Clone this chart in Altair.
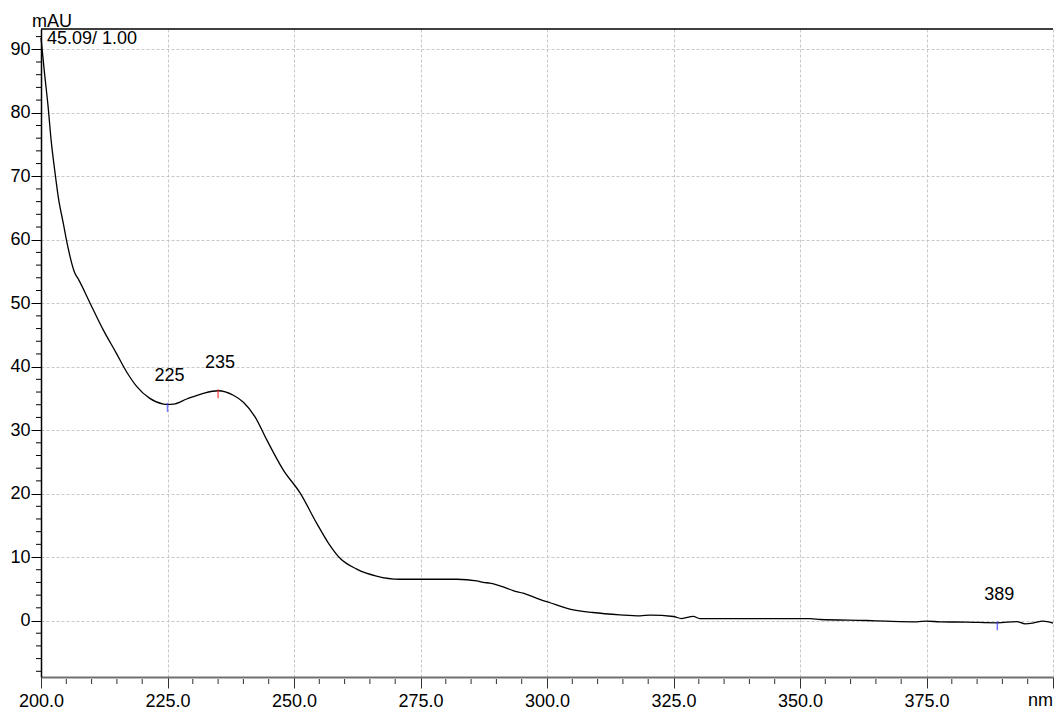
import altair as alt
import pandas as pd

# UV spectrum (wavelength in nm, absorbance in mAU)
wavelength = [
    200.0, 200.7, 201.4, 202.0, 202.7, 203.4, 204.4, 205.3, 206.7, 207.3,
    209.7, 212.3, 214.9, 216.9, 218.9, 221.5, 224.2, 225.0, 226.2, 228.8,
    232.1, 235.0, 238.0, 240.0, 242.3, 244.6, 247.9, 251.2, 254.5, 256.8,
    259.1, 262.4, 266.3, 270.9, 276.9, 282.2, 286.1, 287.4, 288.7, 292.0,
    293.3, 295.3, 298.0, 300.6, 304.5, 309.1, 314.4, 318.4, 320.4, 325.0,
    326.6, 328.9, 330.2, 346.0, 352.0, 354.0, 363.2, 367.1, 373.1, 375.0,
    377.7, 382.9, 389.0, 392.8, 394.5, 396.0, 398.0, 400.0,
]
absorbance = [
    91.8, 86.2, 81.0, 75.7, 71.0, 66.8, 62.6, 58.9, 54.7, 53.9,
    50.0, 45.8, 42.1, 39.2, 36.9, 35.0, 34.1, 34.05, 34.1, 34.9,
    35.8, 36.2, 35.5, 34.4, 32.1, 28.5, 23.7, 20.1, 15.3, 12.2,
    9.8, 8.1, 7.0, 6.5, 6.5, 6.5, 6.25, 6.0, 5.9, 5.1,
    4.7, 4.3, 3.5, 2.8, 1.8, 1.26, 0.9, 0.74, 0.85, 0.63,
    0.31, 0.65, 0.31, 0.31, 0.31, 0.16, 0.0, -0.1, -0.2, -0.1,
    -0.2, -0.25, -0.36, -0.16, -0.52, -0.41, -0.1, -0.41,
]

# Peak / valley markers
peak_nm = [225, 235, 389]
peak_abs = [34.05, 36.2, -0.36]
peak_label = ["225", "235", "389"]
peak_color = ["#3a3aff", "#ff2020", "#3a3aff"]

x_major = [200, 225, 250, 275, 300, 325, 350, 375, 400]
y_major = [0, 10, 20, 30, 40, 50, 60, 70, 80, 90]
x_minor = [v for v in range(205, 400, 5) if v % 25 != 0]
y_minor = [v for v in range(-8, 93, 2) if v % 10 != 0]

W, H = 1012, 648
FONT = "Liberation Sans"

spec = pd.DataFrame({"nm": wavelength, "mAU": absorbance})
peaks = pd.DataFrame({"nm": peak_nm, "mAU": peak_abs,
                      "label": peak_label, "color": peak_color})

xs = alt.Scale(domain=[200, 400], nice=False, zero=False)
ys = alt.Scale(domain=[-8.9, 93.2], nice=False, zero=False)

x_axis = alt.Axis(
    values=x_major, title=None,
    labelExpr="datum.value == 400 ? '' : format(datum.value, '.1f')",
    labelFlush=False, labelOverlap=False,
    tickSize=11, labelPadding=4, tickColor="#303030",
    domainColor="#707070", domainWidth=2,
    grid=True, gridDash=[3, 2], gridColor="#c8c8c8",
    labelFont=FONT, labelFontSize=18, labelColor="#000000",
)
y_axis = alt.Axis(
    values=y_major, title=None, format="d",
    labelFlush=False, labelOverlap=False,
    tickSize=10, labelPadding=1, tickColor="#000000",
    domainColor="#000000", domainWidth=1.5,
    grid=True, gridDash=[3, 2], gridColor="#c8c8c8",
    labelFont=FONT, labelFontSize=18, labelColor="#000000",
)

line = alt.Chart(spec).mark_line(
    color="#000000", strokeWidth=1.3, interpolate="monotone"
).encode(
    x=alt.X("nm:Q", scale=xs, axis=x_axis),
    y=alt.Y("mAU:Q", scale=ys, axis=y_axis),
)

markers = alt.Chart(peaks).mark_tick(
    orient="vertical", size=9, thickness=1.5, strokeDash=[5, 2], yOffset=3
).encode(
    x=alt.X("nm:Q", scale=xs),
    y=alt.Y("mAU:Q", scale=ys),
    color=alt.Color("color:N", scale=None),
)

labels = alt.Chart(peaks).mark_text(
    font=FONT, fontSize=18, color="#000000", dy=-23, dx=2,
    baseline="alphabetic", align="center",
).encode(
    x=alt.X("nm:Q", scale=xs),
    y=alt.Y("mAU:Q", scale=ys),
    text="label:N",
)

x_minor_ticks = alt.Chart(pd.DataFrame({"nm": x_minor})).mark_rule(
    color="#303030", strokeWidth=1
).encode(
    x=alt.X("nm:Q", scale=xs),
    y=alt.value(H + 2), y2=alt.value(H + 7),
)

y_minor_ticks = alt.Chart(pd.DataFrame({"mAU": y_minor})).mark_rule(
    color="#000000", strokeWidth=1
).encode(
    y=alt.Y("mAU:Q", scale=ys),
    x=alt.value(-5), x2=alt.value(0),
)

top_border = alt.Chart(pd.DataFrame({"k": [0]})).mark_rule(
    color="#000000", strokeWidth=1.5
).encode(x=alt.value(0), x2=alt.value(W), y=alt.value(0))

def note(text, x, y, align="left"):
    return alt.Chart(pd.DataFrame({"t": [text]})).mark_text(
        font=FONT, fontSize=18, color="#000000", align=align,
        baseline="alphabetic",
    ).encode(x=alt.value(x), y=alt.value(y), text="t:N")

y_unit = note("mAU", -9, -2)
x_unit = note("nm", W, 677, align="right")
header = note("45.09/ 1.00", 6, 15)

chart = alt.layer(
    line, x_minor_ticks, y_minor_ticks, top_border,
    markers, labels, y_unit, x_unit, header,
).properties(
    width=W, height=H,
    padding={"left": 41, "top": 29, "right": 1, "bottom": 34},
    autosize=alt.AutoSizeParams(type="none"),
    background="#ffffff",
).configure_view(stroke=None)

chart.save("out.html", embed_options={"renderer": "svg", "actions": False})
